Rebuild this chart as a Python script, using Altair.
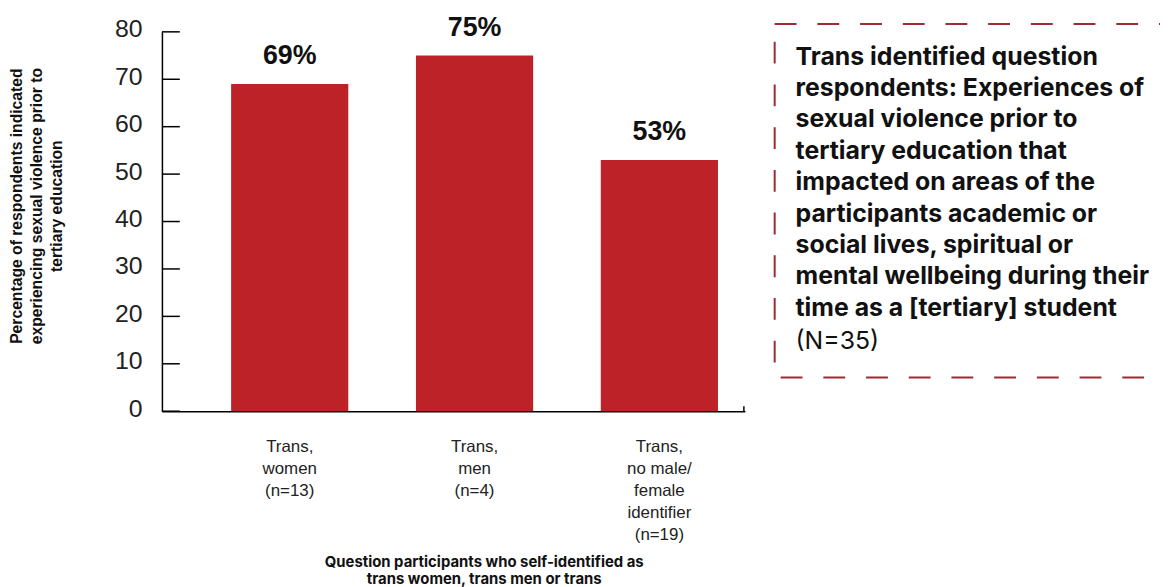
import altair as alt
import pandas as pd

categories = ["Trans,|women|(n=13)", "Trans,|men|(n=4)", "Trans,|no male/|female|identifier|(n=19)"]
values = [69, 75, 53]
value_labels = ["69%", "75%", "53%"]
y_ticks = [0, 10, 20, 30, 40, 50, 60, 70, 80]
box_lines = [
    "Trans identified question",
    "respondents: Experiences of",
    "sexual violence prior to",
    "tertiary education that",
    "impacted on areas of the",
    "participants academic or",
    "social lives, spiritual or",
    "mental wellbeing during their",
    "time as a [tertiary] student",
]
box_note = "(N=35)"
y_title = ["Percentage of respondents indicated", "experiencing sexual violence prior to", "tertiary education"]
x_title = ["Question participants who self-identified as", "trans women, trans men or trans"]

RED = "#BE2229"
BOX = "#9E2A33"
SANS = "Liberation Sans"
BOXFONT = "Inter"

df = pd.DataFrame({"cat": categories, "val": values, "lab": value_labels})
ticks_df = pd.DataFrame({"t": y_ticks})

W, H = 587, 382

x_enc = alt.X(
    "cat:N",
    sort=categories,
    scale=alt.Scale(paddingInner=0.366, paddingOuter=0.26, align=0.72),
    axis=alt.Axis(
        title=x_title,
        labelExpr="split(datum.label, '|')",
        labelAngle=0,
        labelFont=SANS,
        labelFontSize=17,
        labelLineHeight=22,
        labelColor="#222222",
        labelPadding=28,
        labelBaseline="top",
        ticks=False,
        domainColor="#000000",
        domainWidth=1.5,
        titleFont=BOXFONT,
        titleFontSize=15,
        titleFontWeight="bold",
        titleColor="#111111",
        titleX=324,
        titleY=151,
        titleBaseline="middle",
        titleLineHeight=17,
    ),
)

bars = alt.Chart(df).mark_bar(color=RED).encode(
    x=x_enc,
    y=alt.Y(
        "val:Q",
        scale=alt.Scale(domain=[0, 80]),
        axis=alt.Axis(
            values=y_ticks,
            grid=False,
            ticks=False,
            labelFont=SANS,
            labelFontSize=25,
            labelColor="#222222",
            labelPadding=20,
            labelOffset=-3,
            domainColor="#000000",
            domainWidth=1.5,
            title=y_title,
            titleFont=SANS,
            titleFontSize=15.8,
            titleFontWeight="bold",
            titleColor="#111111",
            titleLineHeight=20,
            titleX=-146,
            titleY=175,
            titleAngle=-90,
            titleBaseline="middle",
        ),
    ),
)

text = alt.Chart(df).mark_text(
    font=SANS, fontSize=27, fontWeight="bold", color="#111111", dy=-28
).encode(x=alt.X("cat:N", sort=categories), y="val:Q", text="lab:N")

tick_rules = alt.Chart(ticks_df).mark_rule(color="#000000", strokeWidth=1.5).encode(
    y="t:Q", x=alt.value(0), x2=alt.value(18)
)

end_tick = alt.Chart(ticks_df.head(1)).mark_rule(color="#000000", strokeWidth=1.5).encode(
    x=alt.value(W - 1), y=alt.value(H), y2=alt.value(H - 5)
)

box = alt.Chart(ticks_df.head(1)).mark_rect(
    fill=None, stroke=BOX, strokeWidth=2, strokeDash=[22, 21]
).encode(x=alt.value(617), x2=alt.value(1012), y=alt.value(-8), y2=alt.value(348))

box_text = alt.Chart(ticks_df.head(1)).mark_text(
    text=box_lines, font=BOXFONT, fontSize=25, fontWeight="bold", color="#111111",
    align="left", baseline="middle", lineHeight=31.6
).encode(x=alt.value(638), y=alt.value(25))

note_text = alt.Chart(ticks_df.head(1)).mark_text(
    text=box_note, font=BOXFONT, fontSize=25, color="#111111", align="left", baseline="middle"
).encode(x=alt.value(638), y=alt.value(311))

chart = alt.layer(bars, text, tick_rules, end_tick, box, box_text, note_text).properties(
    width=W,
    height=H,
    autosize=alt.AutoSizeParams(type="none"),
    padding={"left": 155, "top": 22, "right": 418, "bottom": 175},
).configure_view(stroke=None)

chart.save("out.html", embed_options={"renderer": "svg", "actions": False})
